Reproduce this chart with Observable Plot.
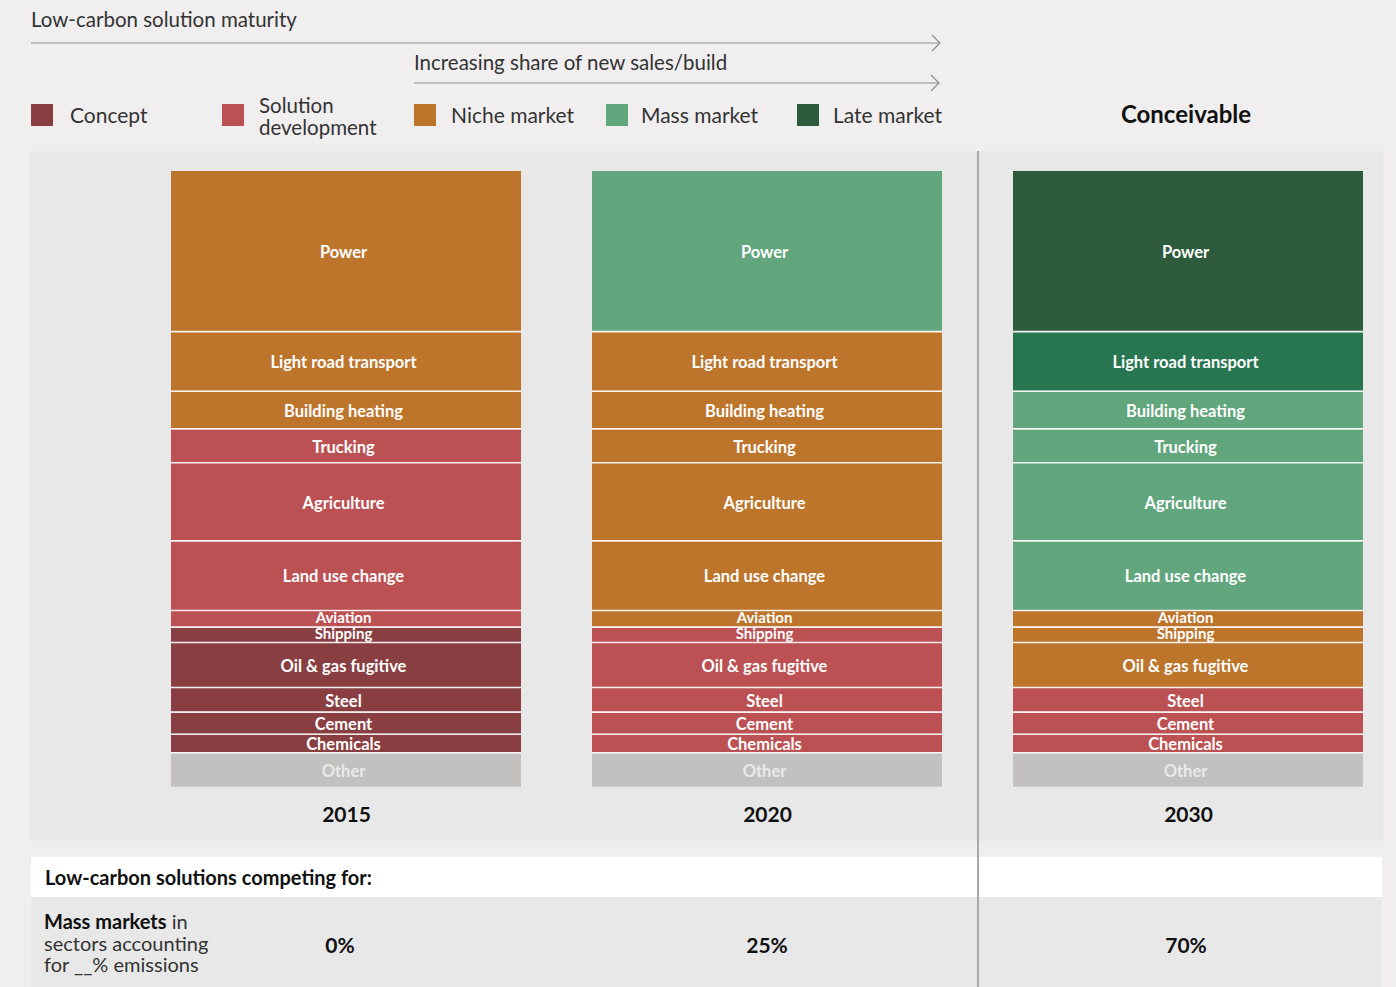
<!DOCTYPE html>
<html>
<head>
<meta charset="utf-8">
<script src="https://cdn.jsdelivr.net/npm/d3@7"></script>
<script src="https://cdn.jsdelivr.net/npm/@observablehq/plot@0.6"></script>
<style>
  html, body { margin:0; padding:0; }
  body { width:1396px; height:987px; background:#F0EEEF; position:relative; overflow:hidden; font-family: Lato, "Open Sans", sans-serif; color:#2a2a2a; }
  .abs { position:absolute; }
  .hdr { font-size:20.5px; color:#333; white-space:nowrap; }
  .sw { position:absolute; width:22px; height:22px; }
  .lg { position:absolute; font-size:21px; color:#333; line-height:21px; white-space:nowrap; }
  #panel { position:absolute; left:30px; top:151px; width:1353px; height:690px; background:#E8E8E8; }
  #divider { position:absolute; left:977px; top:151px; width:1.5px; height:836px; background:#A9A9A9; }
  #white { position:absolute; left:31px; top:857px; width:1351px; height:40px; background:#FFFFFF; }
  #grayrow { position:absolute; left:31px; top:897px; width:1351px; height:90px; background:#E8E8E8; }
  .val { position:absolute; font-size:21px; font-weight:bold; color:#111; transform:translateX(-50%); }
</style>
</head>
<body>
<div id="panel"></div>
<div id="white"></div>
<div id="grayrow"></div>
<div id="header"></div>
<div id="bottom"></div>
<div id="divider"></div>
<script>
// ---- data ----
const years = ["2015", "2020", "2030"];
const sectors = ["Power", "Light road transport", "Building heating", "Trucking", "Agriculture",
  "Land use change", "Aviation", "Shipping", "Oil & gas fugitive", "Steel", "Cement", "Chemicals", "Other"];
const shares = [26.0, 9.7, 6.1, 5.5, 12.7, 11.3, 2.7, 2.5, 7.3, 4.0, 3.6, 3.0, 5.6];
const stage2015 = ["Niche market", "Niche market", "Niche market", "Solution development", "Solution development",
  "Solution development", "Solution development", "Concept", "Concept", "Concept", "Concept", "Concept", "Other"];
const stage2020 = ["Mass market", "Niche market", "Niche market", "Niche market", "Niche market",
  "Niche market", "Niche market", "Solution development", "Solution development", "Solution development",
  "Solution development", "Solution development", "Other"];
const stage2030 = ["Late market", "Late market (early)", "Mass market", "Mass market", "Mass market",
  "Mass market", "Niche market", "Niche market", "Niche market", "Solution development",
  "Solution development", "Solution development", "Other"];
const stages = ["Concept", "Solution development", "Niche market", "Mass market", "Late market", "Late market (early)", "Other"];
const stageColors = ["#893F42", "#BC5153", "#BD752C", "#61A67D", "#2E5B3B", "#287651", "#C2C1BF"];
const legendStages = ["Concept", "Solution development", "Niche market", "Mass market", "Late market"];
const thinSectors = ["Aviation", "Shipping"];
const massLabel = "Mass markets";
const massShare = ["0%", "25%", "70%"];

// ---- build table ----
const stagesByYear = {"2015": stage2015, "2020": stage2020, "2030": stage2030};
const rows = [];
for (const yr of years) {
  for (let i = sectors.length - 1; i >= 0; --i) {
    rows.push({year: yr, sector: sectors[i], share: shares[i], stage: stagesByYear[yr][i]});
  }
}

// ---- header ----
const header = document.getElementById("header");
header.innerHTML = `
  <div class="abs hdr" style="left:31px;top:7px;">Low-carbon solution maturity</div>
  <div class="abs hdr" style="left:414px;top:50px;">Increasing share of new sales/build</div>
  <svg class="abs" style="left:0;top:0" width="960" height="100">
    <g stroke="#8f8f8f" stroke-width="1.2" fill="none">
      <line x1="31" y1="43" x2="940" y2="43"/>
      <polyline points="932,35 940,43 932,51"/>
      <line x1="414" y1="83" x2="939" y2="83"/>
      <polyline points="931,75 939,83 931,91"/>
    </g>
  </svg>
  <div class="abs" style="left:1186px;top:99px;transform:translateX(-50%);font-size:24px;font-weight:bold;color:#111;">Conceivable</div>
`;
const swX = [31, 222, 414, 606, 797];
const lbX = [70, 259, 451, 641, 833];
legendStages.forEach((s, i) => {
  const sw = document.createElement("div");
  sw.className = "sw";
  sw.style.left = swX[i] + "px"; sw.style.top = "104px";
  sw.style.background = stageColors[stages.indexOf(s)];
  header.appendChild(sw);
  if (s === "Solution development") {
    const parts = ["Solution", "development"];
    parts.forEach((p, j) => {
      const lb = document.createElement("div");
      lb.className = "lg";
      lb.style.left = lbX[i] + "px";
      lb.style.fontSize = "20.5px";
      lb.style.lineHeight = "20px";
      lb.style.top = (95 + j * 21.5) + "px";
      lb.textContent = p;
      header.appendChild(lb);
    });
  } else {
    const lb = document.createElement("div");
    lb.className = "lg";
    lb.style.left = lbX[i] + "px";
    lb.style.top = "104px";
    lb.textContent = s;
    header.appendChild(lb);
  }
});

// ---- chart ----
const font = "Lato, 'Open Sans', sans-serif";
const labelOpts = {x: "year", y: "share", z: "sector", fontWeight: "bold", dx: -3};
const chart = Plot.plot({
  width: 1353,
  height: 690,
  marginTop: 0, marginLeft: 0, marginRight: 0, marginBottom: 54,
  style: {background: "transparent", fontFamily: font, color: "#111"},
  x: {domain: years, range: [105.5, 1368.5], paddingInner: 0.1686, paddingOuter: 0.0843, axis: null},
  y: {domain: [0, 100], range: [635.7, 20], axis: null},
  color: {domain: stages, range: stageColors},
  marks: [
    Plot.barY(rows, Plot.stackY({x: "year", y: "share", z: "sector", fill: "stage"})),
    Plot.tickY(rows, Plot.stackY1({x: "year", y: "share", z: "sector", stroke: "white", strokeWidth: 1.6,
      strokeOpacity: d => d.sector === "Other" ? 0 : 0.9})),
    Plot.text(rows, Plot.stackY({...labelOpts,
      text: d => (d.sector === "Other" || thinSectors.includes(d.sector)) ? null : d.sector,
      fill: "white", fontSize: 16.5, dy: 1.5})),
    Plot.text(rows, Plot.stackY({...labelOpts,
      text: d => thinSectors.includes(d.sector) ? d.sector : null,
      fill: "white", fontSize: 15, dy: -0.5})),
    Plot.text(rows, Plot.stackY({...labelOpts,
      text: d => d.sector === "Other" ? d.sector : null,
      fill: "#E9E9E9", fontSize: 16.5, dy: 1.5})),
    Plot.axisX({tickSize: 0, tickPadding: 20, fontSize: 21, fontWeight: "bold", label: null, fill: "#111"})
  ]
});
document.getElementById("panel").appendChild(chart);

// ---- bottom table ----
const bottom = document.getElementById("bottom");
bottom.innerHTML = `
  <div class="abs" style="left:45px;top:865px;font-size:20px;font-weight:bold;color:#111;white-space:nowrap;">Low-carbon solutions competing for:</div>
  <div class="abs" style="left:44px;top:911px;font-size:20px;line-height:21.5px;color:#333;white-space:nowrap;"><b style="color:#111">${massLabel}</b> in<br>sectors accounting<br>for __% emissions</div>
`;
const valX = [340, 767, 1186];
massShare.forEach((v, i) => {
  const d = document.createElement("div");
  d.className = "val";
  d.style.left = valX[i] + "px"; d.style.top = "932px";
  d.textContent = v;
  bottom.appendChild(d);
});
</script>
</body>
</html>
